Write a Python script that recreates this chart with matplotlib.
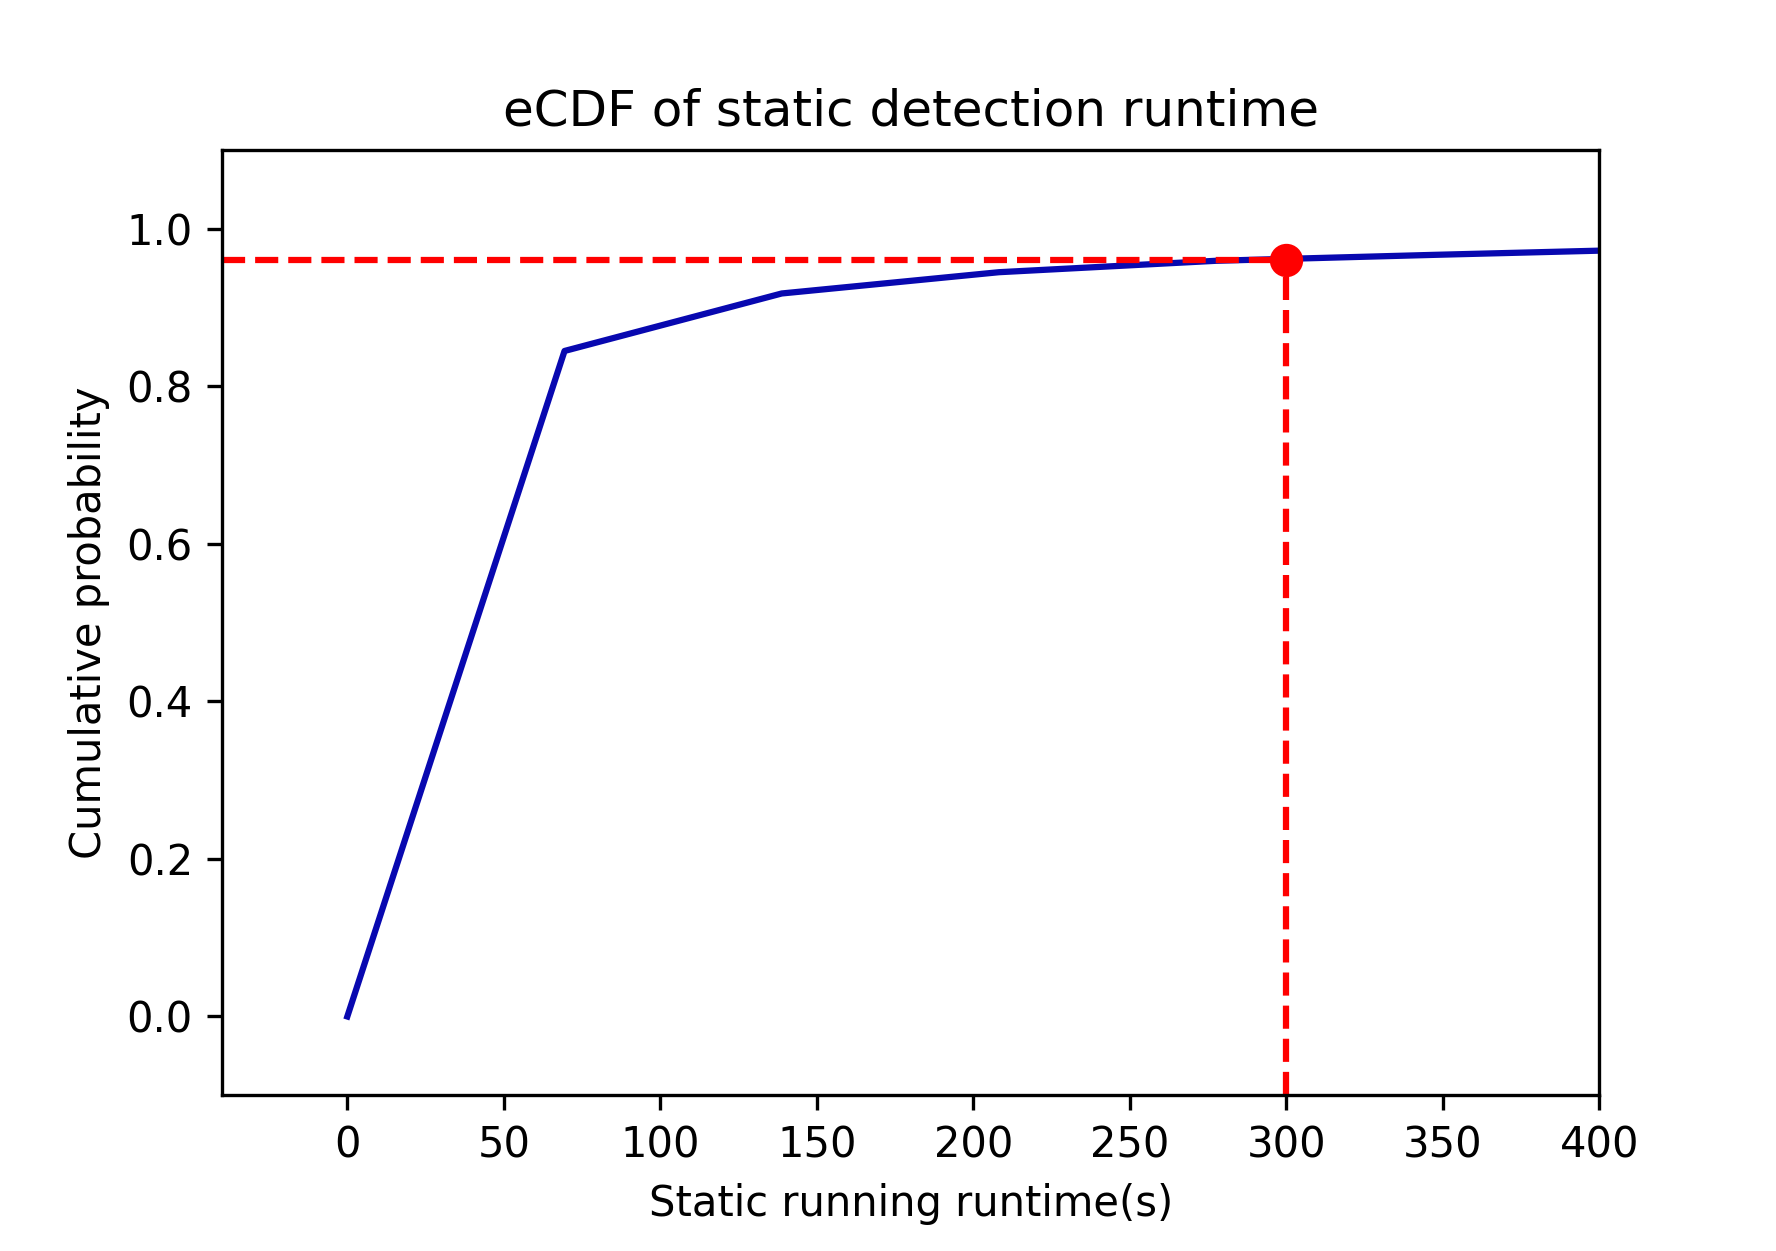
import matplotlib
matplotlib.use("Agg")
import matplotlib.pyplot as plt

# eCDF of static detection runtime
runtime_s = [0, 69.4, 138.8, 208.2, 277.6, 347.0, 416.4]
cum_prob = [0.0, 0.845, 0.918, 0.945, 0.9595, 0.967, 0.974]

# cut-off marker
cutoff_x = 300
cutoff_y = 0.96

x_ticks = [0, 50, 100, 150, 200, 250, 300, 350, 400]
y_ticks = [0.0, 0.2, 0.4, 0.6, 0.8, 1.0]

fig = plt.figure(figsize=(1777 / 300, 1251 / 300), dpi=300)
ax = fig.add_subplot(111)
fig.subplots_adjust(left=0.125, right=0.9, top=0.88, bottom=0.1245)

ax.plot(runtime_s, cum_prob, color="#0808b0", linewidth=1.5)

xmin, ymin = -40, -0.1
ax.plot([xmin, cutoff_x], [cutoff_y, cutoff_y], "r--", linewidth=1.5)
ax.plot([cutoff_x, cutoff_x], [ymin, cutoff_y], "r--", linewidth=1.5)
ax.plot([cutoff_x], [cutoff_y], "ro", markersize=7, zorder=5)

ax.set_xlim(xmin, 400)
ax.set_ylim(ymin, 1.1)
ax.set_xticks(x_ticks)
ax.set_yticks(y_ticks)

ax.set_title("eCDF of static detection runtime")
ax.set_xlabel("Static running runtime(s)")
ax.set_ylabel("Cumulative probability")

fig.savefig("out.png", dpi=300)
